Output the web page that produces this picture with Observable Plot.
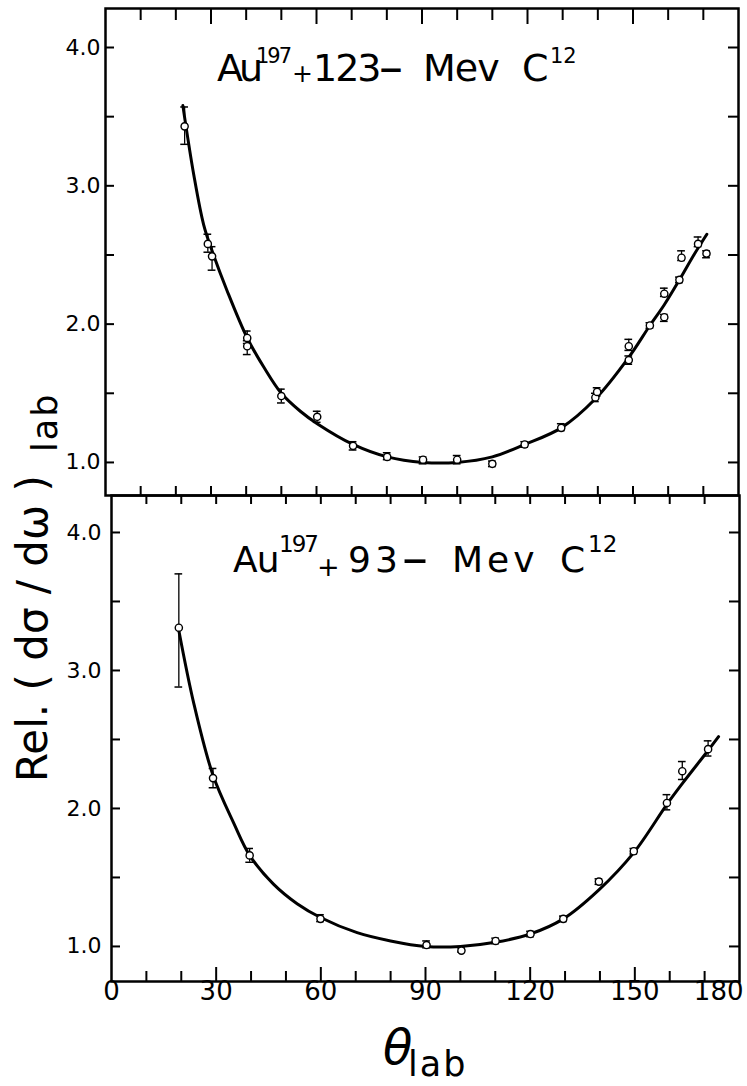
<!DOCTYPE html>
<html>
<head>
<meta charset="utf-8">
<script src="https://cdn.jsdelivr.net/npm/d3@7"></script>
<script src="https://cdn.jsdelivr.net/npm/@observablehq/plot@0.6"></script>
<style>
  html, body { margin: 0; padding: 0; background: white; }
  #wrap { position: relative; width: 747px; height: 1086px; overflow: hidden; font-family: "DejaVu Sans", sans-serif; }
  #topPanel { position: absolute; left: 0; top: 0; }
  #bottomPanel { position: absolute; left: 0; top: 490px; }
  #overlay { position: absolute; left: 0; top: 0; pointer-events: none; }
  #overlay text { font-family: "DejaVu Sans", sans-serif; fill: black; }
</style>
</head>
<body>
<div id="wrap">
  <div id="topPanel"></div>
  <div id="bottomPanel"></div>
  <svg id="overlay" width="747" height="1086" xmlns="http://www.w3.org/2000/svg">
    <!-- top panel title -->
    <text font-size="38"><tspan x="217" y="81" letter-spacing="-4">Au</tspan><tspan x="256" y="63" font-size="21" letter-spacing="-2">197</tspan><tspan x="292" y="82" font-size="25">+</tspan><tspan x="313" y="81" letter-spacing="-2">123</tspan><tspan x="379" y="84" font-size="48">–</tspan><tspan x="423" y="81" letter-spacing="-1">Mev</tspan><tspan x="522" y="81">C</tspan><tspan x="550" y="63" font-size="21">12</tspan></text>
    <!-- bottom panel title -->
    <text font-size="36"><tspan x="233" y="572" letter-spacing="-1">Au</tspan><tspan x="279" y="552" font-size="23" letter-spacing="-2">197</tspan><tspan x="317" y="576" font-size="27">+</tspan><tspan x="348" y="572" letter-spacing="4">93</tspan><tspan x="402" y="575" font-size="52">–</tspan><tspan x="452" y="572" letter-spacing="4">Mev</tspan><tspan x="560" y="572">C</tspan><tspan x="588" y="552" font-size="23">12</tspan></text>
    <!-- y axis label -->
    <text transform="translate(47,782) rotate(-90)" font-size="42"><tspan x="0" y="0">Rel. ( dσ / dω )</tspan><tspan x="330" y="10" font-size="35" letter-spacing="2">lab</tspan></text>
    <!-- x axis label -->
    <text><tspan x="383" y="1064" font-size="48" font-style="italic">θ</tspan><tspan x="408" y="1076" font-size="35" letter-spacing="2">lab</tspan></text>
  </svg>
</div>
<script>
// ---------- Data: Au197 + 123-MeV C12 (top panel) ----------
const topAngle = [22.5, 29.1, 30.3, 40.3, 40.3, 50.0, 60.2, 70.4, 80.1, 90.3, 100.0, 110.0, 119.2, 129.6, 139.3, 139.8, 148.8, 148.8, 154.8, 158.9, 158.9, 163.8, 163.2, 168.5, 170.9];
const topValue = [3.43, 2.58, 2.49, 1.90, 1.84, 1.48, 1.33, 1.12, 1.04, 1.02, 1.02, 0.99, 1.13, 1.25, 1.47, 1.51, 1.84, 1.74, 1.99, 2.22, 2.05, 2.48, 2.32, 2.58, 2.51];
const topLow   = [3.30, 2.52, 2.39, 1.86, 1.78, 1.43, 1.29, 1.09, 1.02, 0.99, 0.99, 0.97, 1.11, 1.23, 1.44, 1.48, 1.81, 1.71, 1.97, 2.20, 2.02, 2.46, 2.30, 2.56, 2.48];
const topHigh  = [3.57, 2.65, 2.56, 1.95, 1.88, 1.53, 1.37, 1.15, 1.07, 1.04, 1.05, 1.01, 1.15, 1.28, 1.50, 1.54, 1.89, 1.77, 2.01, 2.26, 2.07, 2.53, 2.34, 2.63, 2.53];
const topCurveAngle = [22.0, 25.1, 27.9, 30.3, 34.6, 40.3, 45.0, 50.0, 55.4, 60.2, 70.4, 80.1, 90.3, 100.0, 110.0, 119.2, 129.6, 139.3, 148.8, 154.8, 158.9, 163.2, 167.3, 171.0];
const topCurveValue = [3.58, 3.08, 2.72, 2.53, 2.24, 1.90, 1.69, 1.50, 1.37, 1.28, 1.13, 1.04, 1.00, 1.00, 1.04, 1.13, 1.25, 1.46, 1.76, 1.99, 2.14, 2.32, 2.50, 2.65];

// ---------- Data: Au197 + 93-MeV C12 (bottom panel) ----------
const botAngle = [19.3, 29.1, 39.6, 59.9, 90.3, 100.3, 110.1, 120.1, 129.5, 139.7, 149.7, 159.2, 163.6, 171.0];
const botValue = [3.31, 2.22, 1.66, 1.20, 1.01, 0.97, 1.04, 1.09, 1.20, 1.47, 1.69, 2.04, 2.27, 2.43];
const botLow   = [2.88, 2.15, 1.61, 1.18, 0.99, 0.96, 1.02, 1.07, 1.18, 1.45, 1.67, 1.99, 2.21, 2.38];
const botHigh  = [3.70, 2.29, 1.71, 1.23, 1.04, 0.99, 1.06, 1.11, 1.22, 1.49, 1.71, 2.10, 2.34, 2.49];
const botCurveAngle = [19.3, 23.6, 29.1, 35.1, 39.6, 46.5, 53.2, 59.9, 70.4, 80.0, 90.0, 100.0, 110.0, 120.0, 129.5, 139.7, 149.7, 159.2, 163.6, 171.0, 174.0];
const botCurveValue = [3.29, 2.76, 2.24, 1.89, 1.66, 1.45, 1.31, 1.21, 1.10, 1.04, 1.00, 1.00, 1.03, 1.09, 1.20, 1.41, 1.68, 2.03, 2.18, 2.42, 2.52];

// ---------- Tick values / labels ----------
const xTickValues = [0, 30, 60, 90, 120, 150, 180];
const xTickLabels = ["0", "30", "60", "90", "120", "150", "180"];
const xMinorTicks = [10, 20, 40, 50, 70, 80, 100, 110, 130, 140, 160, 170];
const xMajorTicks = [30, 60, 90, 120, 150];
const yTickValues = [1, 2, 3, 4];
const yTickLabels = ["1.0", "2.0", "3.0", "4.0"];
const yMarkTicks = [1, 1.5, 2, 2.5, 3, 3.5, 4];

const pts = (a, v, lo, hi) => a.map((x, i) => ({x, y: v[i], lo: lo[i], hi: hi[i]}));
const crv = (a, v) => a.map((x, i) => ({x, y: v[i]}));

function panel({points, curve, yDomain, height, marginTop, marginBottom, marginLeft, marginRight, bottomAxis, labelPad}) {
  const W = 747;
  const fw = W - marginLeft - marginRight;
  const fh = height - marginTop - marginBottom;
  const allX = xMinorTicks.concat(xMajorTicks);
  const marks = [
    Plot.frame({stroke: "black", strokeWidth: 2.5}),
    // y ticks (left & right, inward)
    Plot.ruleY(yMarkTicks, {y: d => d, insetRight: fw - 9, strokeWidth: 2}),
    Plot.ruleY(yMarkTicks, {y: d => d, insetLeft: fw - 10, strokeWidth: 2}),
    // error bars
    Plot.ruleX(points, {x: "x", y1: "lo", y2: "hi", strokeWidth: 1.3}),
    Plot.ruleY(points, {y: "lo", x1: d => d.x - 1.1, x2: d => d.x + 1.1, strokeWidth: 1.5}),
    Plot.ruleY(points, {y: "hi", x1: d => d.x - 1.1, x2: d => d.x + 1.1, strokeWidth: 1.5}),
    // fitted curve
    Plot.line(curve, {x: "x", y: "y", curve: "catmull-rom", stroke: "black", strokeWidth: 3}),
    // data points
    Plot.dot(points, {x: "x", y: "y", r: 3.6, fill: "white", stroke: "black", strokeWidth: 1.4}),
    // y tick labels
    Plot.text(yTickValues, {y: d => d, text: (d, i) => yTickLabels[i], frameAnchor: "left", textAnchor: "end", dx: -labelPad, fontSize: 22})
  ];
  if (bottomAxis) {
    marks.push(
      Plot.ruleX(allX, {x: d => d, insetBottom: fh - 9, strokeWidth: 2}),
      Plot.ruleX(xMinorTicks, {x: d => d, insetTop: fh - 10, strokeWidth: 2}),
      Plot.ruleX(xMajorTicks, {x: d => d, insetTop: fh - 14, strokeWidth: 2}),
      Plot.text(xTickValues.slice(0, -1), {x: d => d, text: (d, i) => xTickLabels[i], frameAnchor: "bottom", dy: 18, fontSize: 26}),
      Plot.text(xTickValues.slice(-1), {x: d => d, text: () => xTickLabels[xTickLabels.length - 1], frameAnchor: "bottom", textAnchor: "end", dx: 4, dy: 18, fontSize: 26})
    );
  } else {
    marks.push(
      Plot.ruleX(xMinorTicks, {x: d => d, insetBottom: fh - 12, strokeWidth: 2}),
      Plot.ruleX(xMajorTicks, {x: d => d, insetBottom: fh - 16, strokeWidth: 2}),
      Plot.ruleX(allX, {x: d => d, insetTop: fh - 9, strokeWidth: 2})
    );
  }
  return Plot.plot({
    width: W, height, marginTop, marginBottom, marginLeft, marginRight,
    style: {background: "transparent", overflow: "visible", fontFamily: "DejaVu Sans, sans-serif", color: "black"},
    x: {domain: [0, 180], axis: null},
    y: {domain: yDomain, axis: null},
    marks
  });
}

document.getElementById("topPanel").append(panel({
  points: pts(topAngle, topValue, topLow, topHigh),
  curve: crv(topCurveAngle, topCurveValue),
  yDomain: [0.761, 4.282], height: 500, marginTop: 8, marginBottom: 5,
  marginLeft: 105, marginRight: 9, bottomAxis: false, labelPad: 5
}));
document.getElementById("bottomPanel").append(panel({
  points: pts(botAngle, botValue, botLow, botHigh),
  curve: crv(botCurveAngle, botCurveValue),
  yDomain: [0.746, 4.268], height: 596, marginTop: 5, marginBottom: 105,
  marginLeft: 111, marginRight: 8, bottomAxis: true, labelPad: 10
}));
</script>
</body>
</html>
